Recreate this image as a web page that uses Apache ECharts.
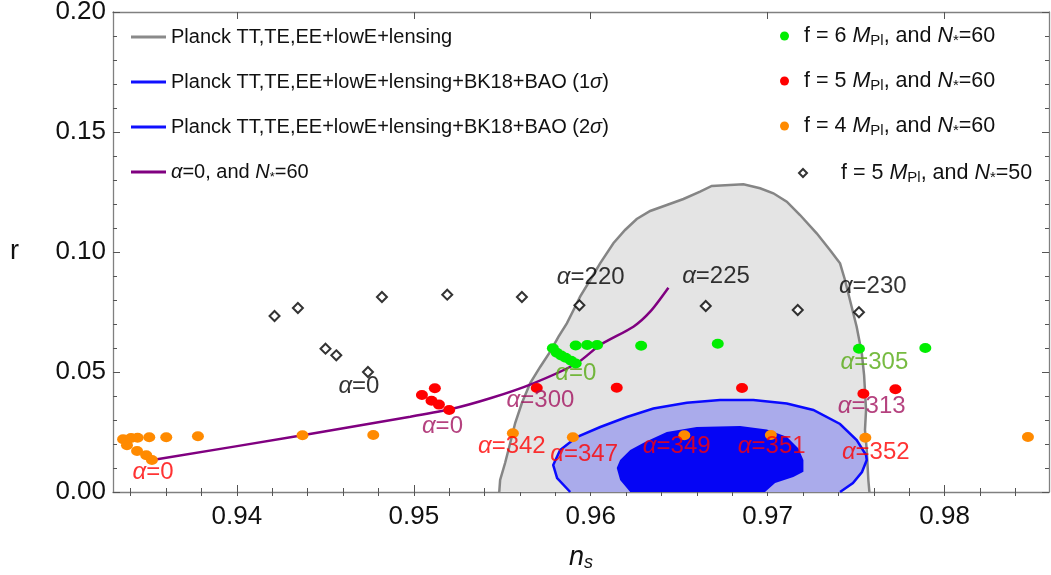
<!DOCTYPE html>
<html><head><meta charset="utf-8">
<script src="https://cdn.jsdelivr.net/npm/echarts@6/dist/echarts.min.js"></script>
<style>html,body{margin:0;padding:0;background:#fff}#c{width:1051px;height:575px}</style>
</head><body><div id="c"></div>
<script>
// ---------- axis ticks ----------
const xMajorTicks = [0.94, 0.95, 0.96, 0.97, 0.98];
const xMinorTicks = [0.934,0.936,0.938,0.940,0.942,0.944,0.946,0.948,0.950,0.952,0.954,0.956,0.958,0.960,0.962,0.964,0.966,0.968,0.970,0.972,0.974,0.976,0.978,0.980,0.982,0.984];
const yMajorTicks = [0.00, 0.05, 0.10, 0.15, 0.20];
const yMinorTicks = [0.00,0.01,0.02,0.03,0.04,0.05,0.06,0.07,0.08,0.09,0.10,0.11,0.12,0.13,0.14,0.15,0.16,0.17,0.18,0.19,0.20];

// ---------- contour regions (ns, r) ----------
const planckContour = [[0.95483,0],[0.95488,0.005],[0.95516,0.01208],[0.95545,0.02042],[0.95573,0.02875],[0.95611,0.03708],[0.95658,0.04542],[0.95715,0.05221],[0.95771,0.05846],[0.95818,0.06471],[0.95865,0.07029],[0.95912,0.07721],[0.95940,0.08138],[0.95997,0.08833],[0.96053,0.09529],[0.96128,0.10363],[0.96194,0.10917],[0.96260,0.11375],[0.96336,0.11708],[0.96430,0.11958],[0.96524,0.12208],[0.96618,0.12513],[0.96684,0.1275],[0.96863,0.12821],[0.96957,0.12654],[0.97032,0.12446],[0.97108,0.12096],[0.97183,0.11542],[0.97277,0.10779],[0.97352,0.10083],[0.97409,0.09529],[0.97437,0.08833],[0.97465,0.08],[0.97503,0.06888],[0.97532,0.05779],[0.97545,0.04875],[0.97556,0.03417],[0.97550,0.02583],[0.97560,0.0175],[0.97569,0.005],[0.97575,0]];
const bk2SigmaContour = [[0.95884,0],[0.95810,0.00583],[0.95788,0.01125],[0.95827,0.0175],[0.95921,0.02292],[0.96054,0.02708],[0.96204,0.03125],[0.96354,0.03479],[0.96543,0.03721],[0.96731,0.03833],[0.96919,0.03833],[0.97108,0.03688],[0.97258,0.03417],[0.97409,0.02833],[0.97503,0.02167],[0.97556,0.01542],[0.97560,0.01333],[0.97533,0.00833],[0.97482,0.00375],[0.97409,0]];
const bk1SigmaContour = [[0.96223,0],[0.96166,0.005],[0.96147,0.01],[0.96166,0.01333],[0.96223,0.0175],[0.96307,0.02083],[0.96430,0.025],[0.96599,0.02708],[0.96844,0.0275],[0.96995,0.02604],[0.97108,0.02304],[0.97173,0.01821],[0.97202,0.01333],[0.97202,0.00846],[0.97145,0.00625],[0.97042,0.00375],[0.96985,0]];

// ---------- alpha=0, N*=60 curve ----------
const alpha0Curve = [[0.93549,0.01363],[0.94371,0.02363],[0.94980,0.03138],[0.95206,0.03446],[0.95432,0.03904],[0.95676,0.04529],[0.95921,0.05363],[0.96053,0.06125],[0.96241,0.06888],[0.96336,0.07513],[0.96439,0.08513]];

// ---------- model points ----------
const f6N60 = [[0.95786,0.05988],[0.95808,0.05804],[0.95833,0.05688],[0.95858,0.05592],[0.95889,0.05471],[0.95915,0.05354],[0.95915,0.06104],[0.95980,0.06125],[0.96036,0.06125],[0.96285,0.06096],[0.96718,0.06179],[0.97516,0.05971],[0.97891,0.06]];
const f5N60 = [[0.95046,0.04042],[0.95119,0.04321],[0.95100,0.03804],[0.95142,0.03642],[0.95200,0.03417],[0.95695,0.04333],[0.96147,0.04346],[0.96855,0.04333],[0.97541,0.04096],[0.97722,0.04279]];
const f4N60 = [[0.93357,0.02196],[0.93379,0.01946],[0.93402,0.0225],[0.93439,0.02263],[0.93436,0.01708],[0.93488,0.01529],[0.93520,0.01333],[0.93505,0.02279],[0.93601,0.02279],[0.93780,0.02321],[0.94371,0.02363],[0.94771,0.02375],[0.95560,0.02446],[0.95899,0.0228],[0.96529,0.02363],[0.97018,0.02375],[0.97552,0.02263],[0.98471,0.02292]];
const f5N50 = [[0.94213,0.07333],[0.94345,0.07667],[0.94501,0.05971],[0.94562,0.05696],[0.94741,0.05],[0.94820,0.08125],[0.95189,0.08221],[0.95611,0.08125],[0.95936,0.07779],[0.96650,0.0775],[0.97170,0.07583],[0.97516,0.07488]];

// ---------- alpha annotations [ns, r, alpha] ----------
const annotBlack = [[0.9469,0.04417,'0'],[0.9600,0.08946,'220'],[0.96708,0.09,'225'],[0.97594,0.08583,'230']];
const annotGreen = [[0.95916,0.04929,'0'],[0.97603,0.05388,'305']];
const annotMagenta = [[0.95716,0.03804,'300'],[0.95162,0.0275,'0'],[0.97588,0.03583,'313']];
const annotRed = [[0.93526,0.00804,'0'],[0.95554,0.01888,'342'],[0.95963,0.01583,'347'],[0.96486,0.01888,'349'],[0.97023,0.01888,'351'],[0.97611,0.01654,'352']];

// ---------- names ----------
const nPlanck = 'Planck TT,TE,EE+lowE+lensing';
const nBK1 = 'Planck TT,TE,EE+lowE+lensing+BK18+BAO (1σ)';
const nBK2 = 'Planck TT,TE,EE+lowE+lensing+BK18+BAO (2σ)';
const nCurve = 'α=0, and N*=60';
const nF6 = 'f = 6 MPl, and N*=60';
const nF5 = 'f = 5 MPl, and N*=60';
const nF4 = 'f = 4 MPl, and N*=60';
const nF5b = 'f = 5 MPl, and N*=50';

const FONT = "'Liberation Sans', Arial, sans-serif";
const XMIN = 0.933, XMAX = 0.9859;

const chart = echarts.init(document.getElementById('c'), null, {renderer:'canvas'});

function regionSeries(name, pts, fill, stroke, lw, z) {
  return {
    type: 'custom', name, z, silent: true,
    xAxisIndex: 0, yAxisIndex: 0,
    data: pts, encode: {x: 0, y: 1},
    itemStyle: {color: stroke || fill},
    renderItem: function (params, api) {
      if (params.dataIndex !== 0) return null;
      const points = pts.map(p => api.coord(p));
      const children = [{type: 'polygon', shape: {points}, style: {fill: fill, stroke: null}}];
      if (stroke) children.push({type: 'polyline', shape: {points}, style: {fill: null, stroke: stroke, lineWidth: lw}});
      return {type: 'group', children};
    }
  };
}

function legendRich(fs, sfs) {
  return {
    i: {fontStyle: 'italic', fontSize: fs, lineHeight: 24, fontFamily: FONT, color: '#111'},
    s: {fontSize: sfs, lineHeight: sfs, verticalAlign: 'bottom', fontFamily: FONT, color: '#111'}
  };
}
function legendFmt(name) {
  if (name === nCurve) return '{i|α}=0, and {i|N}{s|*}=60';
  if (name === nBK1) return 'Planck TT,TE,EE+lowE+lensing+BK18+BAO (1{i|σ})';
  if (name === nBK2) return 'Planck TT,TE,EE+lowE+lensing+BK18+BAO (2{i|σ})';
  const m = name.match(/^f = (\d) MPl, and N\*=(\d+)$/);
  if (m) return 'f = ' + m[1] + ' {i|M}{s|Pl}, and {i|N}{s|*}=' + m[2];
  return name;
}
function mkLegend(name, left, top, iw, ih, icon, itemStyle, fs, sfs, padLeft) {
  return {
    show: true, left, top, orient: 'vertical', selectedMode: false,
    itemWidth: iw, itemHeight: ih, padding: 0,
    data: [{name, icon, itemStyle}],
    formatter: legendFmt,
    textStyle: {fontSize: fs, lineHeight: 24, fontFamily: FONT, color: '#111',
                padding: [0, 0, 0, padLeft], rich: legendRich(fs, sfs)}
  };
}

function annotSeries(data, color) {
  return {
    type: 'scatter', data, symbolSize: 1, silent: true, z: 20,
    itemStyle: {color: 'rgba(0,0,0,0)'},
    label: {
      show: true, position: 'inside', color, fontSize: 24, fontFamily: FONT,
      formatter: p => '{i|α}=' + p.data[2],
      rich: {i: {fontStyle: 'italic', fontSize: 24, fontFamily: FONT, color}}
    }
  };
}

const axisGray = '#808080';
const tickStyle = {color: '#555', width: 1};
const labelStyle = {fontSize: 26, fontFamily: FONT, color: '#111'};
const gridBox = {left: 113, right: 2, top: 12, bottom: 83, show: false, outerBoundsMode: 'none', containLabel: false};

const option = {
  backgroundColor: '#fff',
  animation: false,
  grid: [Object.assign({}, gridBox), Object.assign({}, gridBox)],
  xAxis: [
    {type: 'value', gridIndex: 0, min: XMIN, max: XMAX, position: 'bottom',
     axisLine: {show: true, onZero: false, lineStyle: {color: axisGray, width: 1.3}},
     splitLine: {show: false},
     axisTick: {show: true, inside: true, length: 7, customValues: xMajorTicks, lineStyle: tickStyle},
     axisLabel: Object.assign({customValues: xMajorTicks, margin: 12, formatter: v => v.toFixed(2)}, labelStyle),
     name: '{i|n}{s|s}', nameLocation: 'middle', nameGap: 50,
     nameTextStyle: {rich: {i: {fontStyle: 'italic', fontSize: 27, fontFamily: FONT, color: '#111', lineHeight: 30},
                            s: {fontStyle: 'italic', fontSize: 18, fontFamily: FONT, color: '#111', lineHeight: 18, verticalAlign: 'bottom'}}}},
    {type: 'value', gridIndex: 0, min: XMIN, max: XMAX, position: 'top',
     axisLine: {show: true, onZero: false, lineStyle: {color: axisGray, width: 1.3}},
     splitLine: {show: false},
     axisTick: {show: true, inside: true, length: 7, customValues: xMajorTicks, lineStyle: tickStyle},
     axisLabel: {show: false}},
    {type: 'value', gridIndex: 1, min: XMIN, max: XMAX, position: 'bottom',
     axisLine: {show: false}, splitLine: {show: false}, axisLabel: {show: false},
     axisTick: {show: true, inside: true, length: 4, customValues: xMinorTicks, lineStyle: tickStyle}},
    {type: 'value', gridIndex: 1, min: XMIN, max: XMAX, position: 'top',
     axisLine: {show: false}, splitLine: {show: false}, axisLabel: {show: false},
     axisTick: {show: true, inside: true, length: 4, customValues: xMinorTicks, lineStyle: tickStyle}}
  ],
  yAxis: [
    {type: 'value', gridIndex: 0, min: 0, max: 0.2, position: 'left',
     axisLine: {show: true, onZero: false, lineStyle: {color: axisGray, width: 1.3}},
     splitLine: {show: false},
     axisTick: {show: true, inside: true, length: 7, customValues: yMajorTicks, lineStyle: tickStyle},
     axisLabel: Object.assign({customValues: yMajorTicks, margin: 7, formatter: v => v.toFixed(2)}, labelStyle),
     name: 'r', nameLocation: 'middle', nameGap: 94, nameRotate: 0,
     nameTextStyle: {fontSize: 27, fontFamily: FONT, color: '#111', padding: [18, 0, 0, 0]}},
    {type: 'value', gridIndex: 0, min: 0, max: 0.2, position: 'right',
     axisLine: {show: true, onZero: false, lineStyle: {color: axisGray, width: 1.3}},
     splitLine: {show: false},
     axisTick: {show: true, inside: true, length: 7, customValues: yMajorTicks, lineStyle: tickStyle},
     axisLabel: {show: false}},
    {type: 'value', gridIndex: 1, min: 0, max: 0.2, position: 'left',
     axisLine: {show: false}, splitLine: {show: false}, axisLabel: {show: false},
     axisTick: {show: true, inside: true, length: 4, customValues: yMinorTicks, lineStyle: tickStyle}},
    {type: 'value', gridIndex: 1, min: 0, max: 0.2, position: 'right',
     axisLine: {show: false}, splitLine: {show: false}, axisLabel: {show: false},
     axisTick: {show: true, inside: true, length: 4, customValues: yMinorTicks, lineStyle: tickStyle}}
  ],
  legend: [
    mkLegend(nPlanck, 131, 25, 35, 3, 'rect', {color: '#8a8a8a'}, 20, 13, 0),
    mkLegend(nBK1, 131, 70, 35, 3, 'rect', {color: '#1010ff'}, 20, 13, 0),
    mkLegend(nBK2, 131, 115, 35, 3, 'rect', {color: '#1010ff'}, 20, 13, 0),
    mkLegend(nCurve, 131, 160, 35, 3, 'rect', {color: '#800080'}, 20, 13, 0),
    mkLegend(nF6, 780, 24, 9, 9, 'circle', {color: '#00ee00'}, 21.5, 15, 10),
    mkLegend(nF5, 780, 69, 9, 9, 'circle', {color: '#ff0000'}, 21.5, 15, 10),
    mkLegend(nF4, 780, 114, 9, 9, 'circle', {color: '#ff8a00'}, 21.5, 15, 10),
    mkLegend(nF5b, 798, 161, 8, 8, 'diamond', {color: '#ffffff', borderColor: '#000', borderWidth: 2}, 21.5, 15, 29)
  ],
  series: [
    regionSeries(nPlanck, planckContour, '#e4e4e4', '#858585', 2.5, 1),
    regionSeries(nBK2, bk2SigmaContour, '#aaabeb', '#0a0aff', 2.5, 2),
    regionSeries(nBK1, bk1SigmaContour, '#0505f5', null, 0, 3),
    {type: 'line', name: nCurve, data: alpha0Curve, z: 5, showSymbol: false, symbol: 'none', smooth: 0.25,
     lineStyle: {color: '#800080', width: 2.5}, itemStyle: {color: '#800080'}, silent: true},
    {type: 'scatter', name: nF5b, data: f5N50, z: 6, symbol: 'diamond', symbolSize: [10, 10],
     itemStyle: {color: '#fff', borderColor: '#000', borderWidth: 2}, silent: true},
    {type: 'scatter', name: nF4, data: f4N60, z: 7, symbol: 'circle', symbolSize: [12, 10],
     itemStyle: {color: '#ff8a00', opacity: 1}, silent: true},
    {type: 'scatter', name: nF5, data: f5N60, z: 7, symbol: 'circle', symbolSize: [12, 10],
     itemStyle: {color: '#ff0000', opacity: 1}, silent: true},
    {type: 'scatter', name: nF6, data: f6N60, z: 7, symbol: 'circle', symbolSize: [12, 10],
     itemStyle: {color: '#00ee00', opacity: 1}, silent: true},
    annotSeries(annotBlack, '#000000'),
    annotSeries(annotGreen, '#55aa11'),
    annotSeries(annotMagenta, '#a3135f'),
    annotSeries(annotRed, '#ff0000')
  ]
};
chart.setOption(option);
</script>
</body></html>
